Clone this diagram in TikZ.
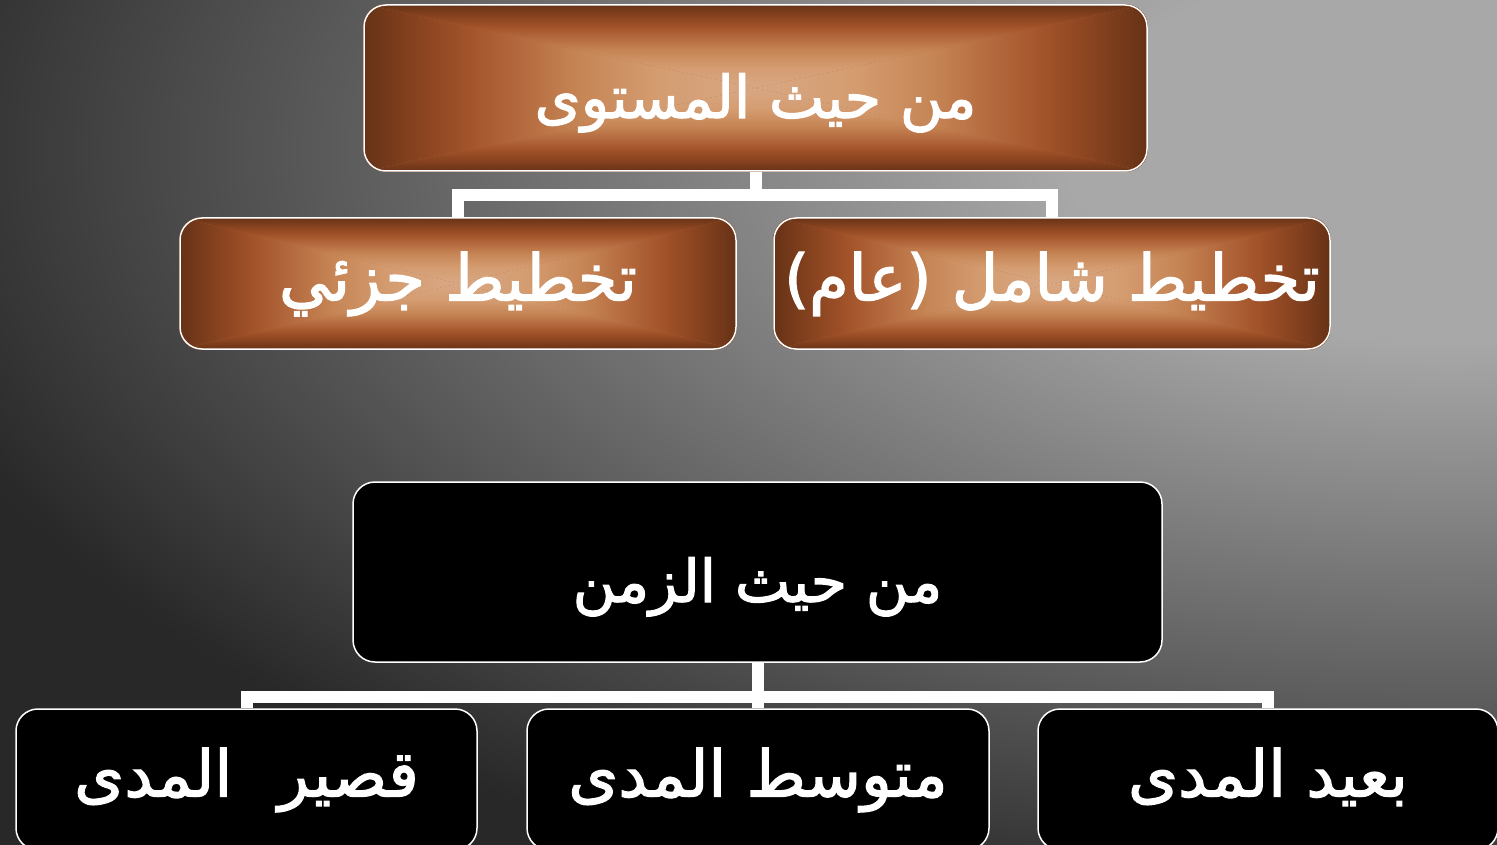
\documentclass[tikz,border=0pt]{standalone}
\usepackage{fontspec}
\newfontfamily\arabicfont[Script=Arabic, FakeBold=2]{DejaVu Sans}
\TeXXeTstate=1

\definecolor{bglight}{HTML}{A8A8A8}
\definecolor{bgdark}{HTML}{282828}
\definecolor{brownlight}{HTML}{D8A884}
\definecolor{browntan}{HTML}{D49C70}
\definecolor{brownsoft}{HTML}{C68555}
\definecolor{brownwarm}{HTML}{B46A3E}
\definecolor{brownmid}{HTML}{A5552B}
\definecolor{browndeep}{HTML}{8A4420}
\definecolor{browndark}{HTML}{663216}

% the middle 50bp of a shading fills the path
\pgfdeclareradialshading{bgglow}{\pgfpoint{0bp}{0bp}}{color(0bp)=(bglight); color(6bp)=(bglight); color(25bp)=(bgdark); color(50bp)=(bgdark)}
\pgfdeclarehorizontalshading{glowside}{100bp}{color(0bp)=(browndark); color(25bp)=(browndark); color(32.5bp)=(browndeep); color(39bp)=(brownmid); color(45bp)=(brownwarm); color(52.5bp)=(brownsoft); color(62.5bp)=(browntan); color(75bp)=(brownlight); color(100bp)=(brownlight)}

\pgfdeclarelayer{backdrop}
\pgfdeclarelayer{glow}
\pgfsetlayers{backdrop,glow,main}

\tikzset{
  catbox/.style={rounded corners=22pt, draw=white, line width=1.5pt, text=white, inner sep=0pt},
  brownbox/.style={catbox},
  blackbox/.style={catbox, fill=black},
  bigtext/.style={font=\arabicfont\fontsize{59}{70}\selectfont, text height=60pt, text depth=0pt},
  hugetext/.style={font=\arabicfont\fontsize{64}{76}\selectfont, text height=40pt, text depth=6pt},
  branch/.style={draw=white, line width=12pt},
}

% rectangular glow behind a brown box
\newcommand{\brownglow}[1]{%
  \begin{scope}
    \clip[rounded corners=22pt] (#1.south west) rectangle (#1.north east);
    \fill[brownwarm] (#1.south west) rectangle (#1.north east);
    \shade[shading=glowside] (#1.north west) -- (#1.south west) -- (#1.center) -- cycle;
    \shade[shading=glowside, shading angle=180] (#1.north east) -- (#1.south east) -- (#1.center) -- cycle;
    \shade[shading=glowside, shading angle=90] (#1.south west) -- (#1.south east) -- (#1.center) -- cycle;
    \shade[shading=glowside, shading angle=270] (#1.north west) -- (#1.north east) -- (#1.center) -- cycle;
  \end{scope}}

\begin{document}
\begin{tikzpicture}[x=1pt, y=-1pt]
  \useasboundingbox (0,0) rectangle (1497,845);
  \clip (0,0) rectangle (1497,845);

  % background
  \begin{pgfonlayer}{backdrop}
    \fill[bgdark] (0,0) rectangle (1497,845);
    \shade[shading=bgglow] (-150,-650) rectangle (3050,950);
  \end{pgfonlayer}

  % by level
  \node[brownbox, bigtext, minimum width=783pt, minimum height=166pt] (level) at (755.5,88) {\beginR من حيث المستوى\endR};
  \node[brownbox, hugetext, minimum width=556pt, minimum height=131pt] (part) at (458,283.5) {\beginR تخطيط جزئي\endR};
  \node[brownbox, hugetext, minimum width=556pt, minimum height=131pt] (whole) at (1052,283.5) {\beginR تخطيط شامل (عام)\endR};

  \begin{pgfonlayer}{glow}
    \brownglow{level}
    \brownglow{part}
    \brownglow{whole}
  \end{pgfonlayer}

  \draw[branch] (level.south) -- ++(0,23) -| (part.north);
  \draw[branch] (level.south) -- ++(0,23) -| (whole.north);

  % by time
  \node[blackbox, bigtext, minimum width=809pt, minimum height=180pt] (time) at (757.5,572) {\beginR من حيث الزمن\endR};
  \node[blackbox, hugetext, minimum width=461pt, minimum height=141pt] (short) at (246.5,779.5) {\beginR قصير\hspace{0.4em} المدى\endR};
  \node[blackbox, hugetext, minimum width=462pt, minimum height=141pt] (medium) at (758,779.5) {\beginR متوسط المدى\endR};
  \node[blackbox, hugetext, minimum width=460pt, minimum height=141pt] (long) at (1268,779.5) {\beginR بعيد المدى\endR};

  \draw[branch] (time.south) -- ++(0,34) -| (short.north);
  \draw[branch] (time.south) -- ++(0,34) -| (medium.north);
  \draw[branch] (time.south) -- ++(0,34) -| (long.north);
\end{tikzpicture}
\end{document}
